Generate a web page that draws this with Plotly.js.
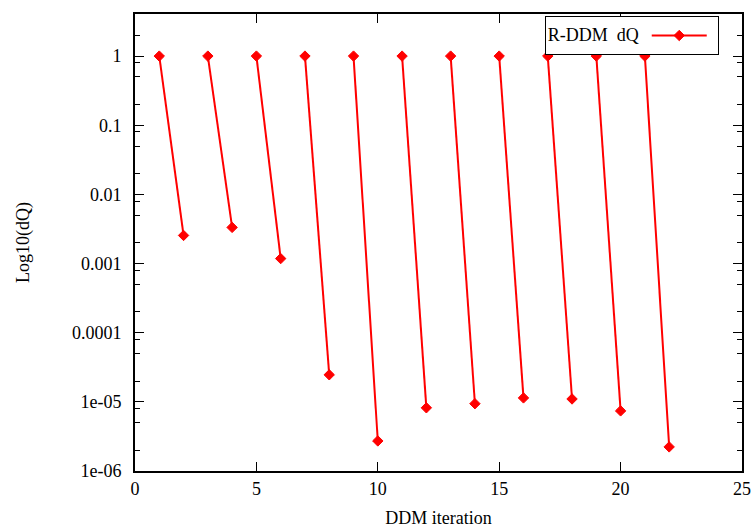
<!DOCTYPE html>
<html><head><meta charset="utf-8">
<script src="https://cdn.plot.ly/plotly-3.0.1.min.js"></script>
<style>html,body{margin:0;padding:0;background:#fff}#c{width:755px;height:529px}</style>
</head><body><div id="c"></div>
<script>
// R-DDM dQ: each outer step has two DDM iterations (start at 1, end at reduced dQ)
const startIter = [1, 3, 5, 7, 9, 11, 13, 15, 17, 19, 21];
const endIter   = [2, 4, 6, 8, 10, 12, 14, 16, 18, 20, 22];
const startDQ   = [1, 1, 1, 1, 1, 1, 1, 1, 1, 1, 1];
const endDQ     = [0.00255, 0.00333, 0.00118, 2.46e-5, 2.72e-6, 8.2e-6, 9.4e-6, 1.14e-5, 1.10e-5, 7.4e-6, 2.23e-6];
const yTickVals = [1, 0.1, 0.01, 0.001, 0.0001, 1e-5, 1e-6];
const yTickText = ["1", "0.1", "0.01", "0.001", "0.0001", "1e-05", "1e-06"];
const xTickVals = [0, 5, 10, 15, 20, 25];

const xs = [], ys = [];
for (let i = 0; i < startIter.length; i++) {
  xs.push(startIter[i], endIter[i], null);
  ys.push(startDQ[i], endDQ[i], null);
}
const minorVals = [];
for (let e = -6; e <= 0; e++) {
  [2, 5, 8].forEach(m => minorVals.push(m * Math.pow(10, e)));
}
const yRange = [-6, Math.log10(4.06)];
const font = {family: "Liberation Serif, Times New Roman, serif", size: 18, color: "#000"};

const trace = {
  x: xs, y: ys, mode: "lines+markers", name: "",
  connectgaps: false,
  line: {color: "#ff0000", width: 2},
  marker: {symbol: "diamond", size: 8, color: "#ff0000", line: {color: "#ff0000", width: 1}},
  showlegend: true
};
const ghost = {x: [null], y: [null], yaxis: "y2", showlegend: false, hoverinfo: "skip"};

const layout = {
  width: 755, height: 529,
  margin: {l: 135, r: 13, t: 14, b: 58},
  paper_bgcolor: "#fff", plot_bgcolor: "#fff",
  font: font,
  showlegend: true,
  legend: {
    x: 0.675, y: 0.995, xanchor: "left", yanchor: "top",
    bgcolor: "#fff", bordercolor: "#000", borderwidth: 1,
    title: {text: "R-DDM  dQ", side: "left", font: font},
    itemwidth: 55, font: font, tracegroupgap: 0
  },
  xaxis: {
    range: [0, 25], tickvals: xTickVals, ticks: "inside", ticklen: 9, tickwidth: 1,
    tickcolor: "#000", showline: true, linecolor: "#000", linewidth: 2, mirror: "ticks",
    showgrid: false, zeroline: false,
    title: {text: "DDM iteration", font: font, standoff: 14}
  },
  yaxis: {
    type: "log", range: yRange, tickvals: yTickVals, ticktext: yTickText,
    ticks: "inside", ticklen: 9, tickwidth: 1, tickcolor: "#000",
    showline: true, linecolor: "#000", linewidth: 2, mirror: "ticks",
    showgrid: false, zeroline: false, ticklabelstandoff: 8,
    title: {text: "Log10(dQ)", font: font, standoff: 38}
  },
  yaxis2: {
    type: "log", range: yRange, overlaying: "y", side: "left",
    tickvals: minorVals, ticks: "inside", ticklen: 5, tickwidth: 1, tickcolor: "#000",
    showticklabels: false, showline: false, mirror: "ticks", showgrid: false, zeroline: false
  }
};
Plotly.newPlot("c", [trace, ghost], layout, {displayModeBar: false, staticPlot: true});
</script></body></html>
